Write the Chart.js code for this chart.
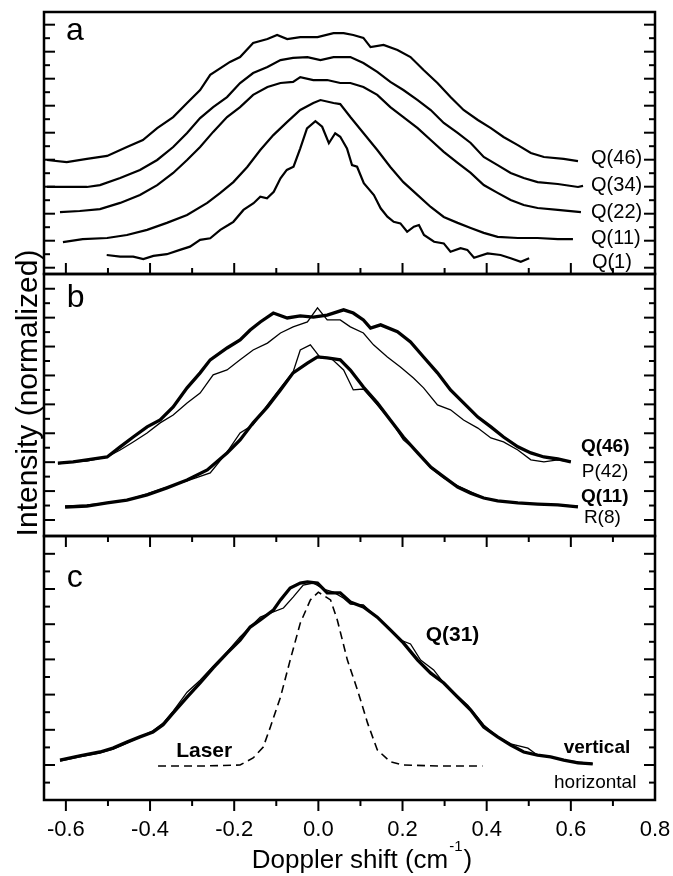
<!DOCTYPE html>
<html>
<head>
<meta charset="utf-8">
<script src="https://cdn.jsdelivr.net/npm/chart.js@4.4.0/dist/chart.umd.min.js"></script>
<style>
  html, body { margin: 0; padding: 0; background: #fff; }
  #wrap { position: relative; width: 673px; height: 876px; }
  #wrap canvas { position: absolute; left: 0; top: 0; }
</style>
</head>
<body>
<div id="wrap">
  <canvas id="panelA" width="673" height="876"></canvas>
  <canvas id="panelB" width="673" height="876"></canvas>
  <canvas id="panelC" width="673" height="876"></canvas>
</div>
<script>
// x axis (Doppler shift, cm-1)
const xMin = -0.652, xMax = 0.8;
const xTickLabels = [-0.6, -0.4, -0.2, 0.0, 0.2, 0.4, 0.6, 0.8];
const xMajor = [-0.6, -0.4, -0.2, 0.0, 0.2, 0.4, 0.6];
const xMinor = [-0.5, -0.3, -0.1, 0.1, 0.3, 0.5, 0.7];

// y ticks per panel (offset intensity units)
const aMajor = [0, 1, 2, 3, 4, 5, 6, 7, 8, 9];
const aMinor = [0.5, 1.5, 2.5, 3.5, 4.5, 5.5, 6.5, 7.5, 8.5];
const bMajor = [0, 1, 2, 3, 4, 5, 6, 7, 8];
const bMinor = [0.5, 1.5, 2.5, 3.5, 4.5, 5.5, 6.5, 7.5];
const cMajor = [0, 1, 2, 3, 4, 5, 6];
const cMinor = [-0.5, 0.5, 1.5, 2.5, 3.5, 4.5, 5.5];

// panel a
const aQ46x = [-0.645,-0.598,-0.550,-0.502,-0.455,-0.417,-0.383,-0.345,-0.312,-0.281,-0.257,-0.210,-0.186,-0.155,-0.121,-0.098,-0.074,-0.043,-0.002,0.036,0.060,0.083,0.107,0.124,0.155,0.188,0.219,0.250,0.283,0.314,0.345,0.379,0.410,0.440,0.474,0.505,0.536,0.583,0.617];
const aQ46y = [3.99,3.91,4.03,4.14,4.47,4.73,5.17,5.58,6.10,6.58,7.14,7.62,7.80,8.32,8.47,8.62,8.47,8.54,8.54,8.69,8.69,8.62,8.51,8.17,8.25,8.06,7.80,7.32,6.84,6.32,5.84,5.47,5.17,4.84,4.54,4.25,4.10,4.03,3.95];
const aQ34x = [-0.645,-0.598,-0.550,-0.519,-0.471,-0.424,-0.383,-0.345,-0.312,-0.281,-0.250,-0.217,-0.186,-0.155,-0.121,-0.090,-0.060,-0.026,0.005,0.036,0.076,0.107,0.140,0.171,0.202,0.236,0.267,0.298,0.331,0.362,0.393,0.426,0.457,0.488,0.521,0.569,0.617,0.629];
const aQ34y = [2.99,2.99,2.99,3.06,3.32,3.62,3.99,4.47,4.99,5.54,5.95,6.32,6.84,7.21,7.43,7.69,7.77,7.80,7.69,7.80,7.80,7.58,7.25,6.88,6.58,6.21,5.84,5.36,4.99,4.62,4.10,3.80,3.51,3.32,3.17,3.10,2.99,3.03];
const aQ22x = [-0.614,-0.567,-0.519,-0.471,-0.424,-0.383,-0.345,-0.312,-0.281,-0.250,-0.217,-0.186,-0.155,-0.121,-0.090,-0.060,-0.043,-0.012,0.021,0.052,0.076,0.107,0.140,0.171,0.202,0.236,0.267,0.298,0.331,0.362,0.393,0.426,0.457,0.488,0.521,0.569,0.624];
const aQ22y = [2.06,2.10,2.17,2.40,2.69,3.06,3.51,3.99,4.47,5.03,5.58,5.95,6.40,6.69,6.84,6.88,7.06,6.95,6.95,6.84,6.84,6.69,6.40,5.95,5.58,5.17,4.73,4.29,3.88,3.51,3.06,2.77,2.51,2.32,2.21,2.14,2.06];
const aQ11x = [-0.607,-0.560,-0.502,-0.455,-0.407,-0.360,-0.312,-0.264,-0.233,-0.202,-0.169,-0.138,-0.107,-0.074,-0.043,-0.012,0.005,0.036,0.052,0.076,0.107,0.140,0.171,0.202,0.236,0.267,0.298,0.331,0.362,0.393,0.426,0.474,0.521,0.569,0.605];
const aQ11y = [0.95,1.06,1.10,1.21,1.40,1.66,1.95,2.40,2.77,3.17,3.73,4.36,4.91,5.40,5.84,6.10,6.21,6.10,6.06,5.58,4.99,4.36,3.73,3.17,2.69,2.25,1.88,1.66,1.47,1.29,1.14,1.10,1.10,1.06,1.06];
const aQ1x = [-0.503,-0.471,-0.440,-0.416,-0.392,-0.360,-0.329,-0.305,-0.281,-0.257,-0.233,-0.214,-0.202,-0.178,-0.154,-0.138,-0.122,-0.106,-0.090,-0.075,-0.059,-0.043,-0.027,-0.007,0.009,0.025,0.040,0.052,0.068,0.080,0.092,0.108,0.132,0.148,0.164,0.179,0.195,0.211,0.227,0.239,0.251,0.275,0.298,0.314,0.338,0.354,0.370,0.402,0.433,0.457,0.481,0.501];
const aQ1y = [0.47,0.41,0.41,0.32,0.44,0.50,0.66,0.78,1.03,1.09,1.40,1.58,1.70,2.14,2.39,2.63,2.57,2.81,3.31,3.62,3.74,4.42,5.16,5.43,5.22,4.61,4.98,4.85,4.42,3.80,3.74,3.13,2.69,2.20,1.89,1.70,1.64,1.33,1.52,1.58,1.21,0.96,0.90,0.59,0.72,0.66,0.37,0.53,0.47,0.35,0.22,0.35];

// panel b
const bQ46x = [-0.619,-0.583,-0.550,-0.502,-0.471,-0.440,-0.407,-0.376,-0.345,-0.312,-0.281,-0.257,-0.217,-0.186,-0.162,-0.138,-0.107,-0.074,-0.043,-0.012,0.021,0.060,0.083,0.107,0.124,0.148,0.188,0.219,0.250,0.283,0.314,0.345,0.379,0.410,0.440,0.474,0.505,0.536,0.569,0.600];
const bQ46y = [1.97,2.01,2.08,2.18,2.53,2.87,3.22,3.46,3.91,4.57,5.09,5.54,5.95,6.23,6.57,6.85,7.16,6.99,7.06,7.02,7.09,7.27,7.16,6.92,6.64,6.75,6.51,6.16,5.64,5.09,4.50,4.05,3.56,3.22,2.87,2.53,2.32,2.18,2.11,2.01];
const bP42x = [-0.619,-0.583,-0.550,-0.502,-0.471,-0.440,-0.407,-0.376,-0.345,-0.312,-0.281,-0.250,-0.217,-0.186,-0.155,-0.121,-0.090,-0.060,-0.026,-0.002,0.021,0.052,0.076,0.107,0.131,0.164,0.195,0.226,0.250,0.283,0.314,0.345,0.379,0.410,0.440,0.474,0.505,0.536,0.569,0.600];
const bP42y = [1.94,2.01,2.04,2.18,2.42,2.70,3.01,3.36,3.63,4.05,4.39,5.02,5.19,5.54,5.88,6.12,6.47,6.68,6.85,7.34,6.92,6.92,6.68,6.47,6.06,5.64,5.29,4.91,4.57,3.98,3.81,3.46,3.18,2.84,2.70,2.42,2.08,2.01,2.08,2.01];
const bQ11x = [-0.602,-0.550,-0.502,-0.455,-0.407,-0.360,-0.312,-0.264,-0.217,-0.186,-0.155,-0.121,-0.090,-0.060,-0.026,-0.002,0.021,0.052,0.076,0.107,0.140,0.171,0.202,0.236,0.267,0.298,0.331,0.362,0.393,0.426,0.474,0.521,0.569,0.617];
const bQ11y = [0.45,0.48,0.59,0.69,0.87,1.11,1.38,1.73,2.32,2.77,3.36,3.91,4.50,5.09,5.43,5.64,5.61,5.54,5.19,4.60,4.05,3.46,2.87,2.32,1.83,1.49,1.14,0.93,0.76,0.66,0.59,0.55,0.52,0.45];
const bR8x = [-0.602,-0.550,-0.502,-0.455,-0.407,-0.360,-0.312,-0.257,-0.217,-0.186,-0.155,-0.121,-0.090,-0.060,-0.043,-0.019,0.005,0.029,0.060,0.083,0.107,0.140,0.171,0.202,0.236,0.267,0.298,0.331,0.362,0.393,0.426,0.474,0.521,0.569,0.617];
const bR8y = [0.48,0.52,0.59,0.69,0.90,1.14,1.35,1.63,2.35,3.01,3.29,3.98,4.57,5.12,5.88,6.06,5.61,5.61,5.19,4.50,4.53,3.98,3.46,2.77,2.35,1.80,1.45,1.18,0.97,0.76,0.66,0.59,0.55,0.52,0.48];

// panel c
const cVertX = [-0.614,-0.567,-0.519,-0.488,-0.455,-0.424,-0.393,-0.369,-0.345,-0.312,-0.281,-0.250,-0.217,-0.186,-0.162,-0.138,-0.107,-0.090,-0.067,-0.043,-0.026,-0.002,0.021,0.052,0.076,0.107,0.140,0.171,0.202,0.236,0.267,0.298,0.331,0.362,0.393,0.426,0.457,0.488,0.521,0.552,0.583,0.617,0.652];
const cVertY = [0.14,0.26,0.37,0.48,0.65,0.80,0.94,1.14,1.48,1.93,2.33,2.76,3.18,3.55,3.92,4.12,4.40,4.69,5.03,5.17,5.20,5.17,4.89,4.89,4.63,4.49,4.20,3.84,3.47,2.98,2.61,2.33,1.93,1.56,1.08,0.80,0.57,0.37,0.28,0.23,0.14,0.06,0.03];
const cHorX = [-0.614,-0.567,-0.519,-0.488,-0.455,-0.424,-0.393,-0.369,-0.345,-0.312,-0.281,-0.250,-0.217,-0.186,-0.162,-0.138,-0.107,-0.083,-0.060,-0.036,-0.012,0.012,0.036,0.060,0.076,0.107,0.140,0.171,0.195,0.219,0.243,0.274,0.302,0.355,0.393,0.426,0.457,0.498,0.521,0.552,0.583,0.617,0.652];
const cHorY = [0.11,0.23,0.34,0.45,0.62,0.80,0.97,1.19,1.53,2.07,2.41,2.81,3.21,3.64,3.92,4.20,4.35,4.46,4.77,5.11,5.17,5.00,4.91,4.74,4.57,4.55,4.18,3.84,3.55,3.44,2.98,2.70,2.27,1.70,1.14,0.80,0.60,0.48,0.28,0.23,0.14,0.09,0.03];
const laserX = [-0.381,-0.281,-0.186,-0.155,-0.131,-0.114,-0.090,-0.067,-0.043,-0.019,0.000,0.029,0.045,0.069,0.093,0.117,0.140,0.171,0.202,0.290,0.390];
const laserY = [-0.03,-0.03,0.00,0.20,0.51,1.08,1.93,2.98,4.03,4.69,4.91,4.69,4.12,2.98,2.13,1.19,0.43,0.09,0.00,-0.03,-0.03];

const FONT = '"Liberation Sans", Arial, Helvetica, sans-serif';

const pts = (xs, ys) => xs.map((x, i) => ({ x, y: ys[i] }));
const curve = (xs, ys, w, dash) => ({
  data: pts(xs, ys),
  borderColor: "#000",
  borderWidth: w,
  borderDash: dash || [],
  pointRadius: 0,
  tension: 0,
  fill: false,
});

// frame, inward ticks and text labels for one panel
const panelFrame = {
  id: "panelFrame",
  afterDatasetsDraw(chart, args, o) {
    const { ctx, chartArea: ca, scales: { x, y } } = chart;
    ctx.save();
    ctx.strokeStyle = "#000";
    ctx.fillStyle = "#000";
    ctx.lineWidth = 2;
    const line = (x1, y1, x2, y2) => {
      ctx.beginPath();
      ctx.moveTo(x1, y1);
      ctx.lineTo(x2, y2);
      ctx.stroke();
    };
    const yTicks = (vals, len) => vals.forEach(v => {
      const p = y.getPixelForValue(v);
      line(ca.left, p, ca.left + len, p);
      line(ca.right, p, ca.right - len, p);
    });
    yTicks(o.yMajor, 11);
    yTicks(o.yMinor, 6);
    const xTicks = (vals, len) => vals.forEach(v => {
      const p = x.getPixelForValue(v);
      if (o.xBottomIn) line(p, ca.bottom, p, ca.bottom - len);
      if (o.xTopIn) line(p, ca.top, p, ca.top + len);
      if (o.xBottomOut) line(p, ca.bottom, p, ca.bottom + len);
    });
    xTicks(xMajor, 11);
    xTicks(xMinor, 6);

    ctx.lineWidth = 2.5;
    ctx.strokeRect(ca.left, ca.top, ca.right - ca.left, ca.bottom - ca.top);

    (o.notes || []).forEach(n => {
      ctx.font = `${n.bold ? "bold " : ""}${n.size}px ${FONT}`;
      ctx.textAlign = "left";
      ctx.textBaseline = n.base || "middle";
      ctx.fillText(n.text, x.getPixelForValue(n.x), y.getPixelForValue(n.y));
    });
    if (o.extra) o.extra(ctx, chart);
    ctx.restore();
  },
};

function makePanel(id, pad, yMin, yMax, datasets, frame, xScale) {
  return new Chart(document.getElementById(id), {
    type: "line",
    data: { datasets },
    options: {
      responsive: false,
      animation: false,
      devicePixelRatio: 1,
      layout: { padding: pad },
      plugins: {
        legend: { display: false },
        tooltip: { enabled: false },
        panelFrame: frame,
      },
      scales: {
        x: xScale || { type: "linear", min: xMin, max: xMax, display: false },
        y: { type: "linear", min: yMin, max: yMax, display: false },
      },
    },
    plugins: [panelFrame],
  });
}

// a
makePanel("panelA", { left: 44, top: 12, right: 18, bottom: 602 }, -0.233, 9.47, [
  curve(aQ46x, aQ46y, 2.2),
  curve(aQ34x, aQ34y, 2.2),
  curve(aQ22x, aQ22y, 2.2),
  curve(aQ11x, aQ11y, 2.2),
  curve(aQ1x, aQ1y, 2.2),
], {
  yMajor: aMajor, yMinor: aMinor, xBottomIn: true,
  notes: [
    { text: "a", x: -0.600, y: 8.43, size: 32, base: "alphabetic" },
    { text: "Q(46)", x: 0.648, y: 4.03, size: 20 },
    { text: "Q(34)", x: 0.648, y: 3.06, size: 20 },
    { text: "Q(22)", x: 0.648, y: 2.06, size: 20 },
    { text: "Q(11)", x: 0.648, y: 1.10, size: 20 },
    { text: "Q(1)", x: 0.650, y: 0.21, size: 20 },
  ],
});

// b
makePanel("panelB", { left: 44, top: 274, right: 18, bottom: 340 }, -0.554, 8.51, [
  curve(bQ46x, bQ46y, 3.3),
  curve(bP42x, bP42y, 1.3),
  curve(bQ11x, bQ11y, 3.3),
  curve(bR8x, bR8y, 1.3),
], {
  yMajor: bMajor, yMinor: bMinor,
  notes: [
    { text: "b", x: -0.598, y: 7.37, size: 32, base: "alphabetic" },
    { text: "Q(46)", x: 0.624, y: 2.53, size: 19, bold: true },
    { text: "P(42)", x: 0.626, y: 1.66, size: 19 },
    { text: "Q(11)", x: 0.624, y: 0.80, size: 19, bold: true },
    { text: "R(8)", x: 0.631, y: 0.07, size: 19 },
  ],
  extra(ctx) {
    ctx.save();
    ctx.translate(37, 393);
    ctx.rotate(-Math.PI / 2);
    ctx.font = `30px ${FONT}`;
    ctx.textAlign = "center";
    ctx.textBaseline = "alphabetic";
    ctx.fillText("Intensity (normalized)", 0, 0);
    ctx.restore();
  },
});

// c
makePanel("panelC", { left: 44, top: 536, right: 18, bottom: 0 }, -0.994, 6.506, [
  curve(cVertX, cVertY, 3.3),
  curve(cHorX, cHorY, 1.3),
  curve(laserX, laserY, 1.6, [8, 5]),
], {
  yMajor: cMajor, yMinor: cMinor, xTopIn: true, xBottomOut: true,
  notes: [
    { text: "c", x: -0.598, y: 5.06, size: 32, base: "alphabetic" },
    { text: "Q(31)", x: 0.255, y: 3.69, size: 21, bold: true },
    { text: "vertical", x: 0.583, y: 0.48, size: 19, bold: true },
    { text: "horizontal", x: 0.560, y: -0.51, size: 19 },
    { text: "Laser", x: -0.338, y: 0.40, size: 21, bold: true },
  ],
  extra(ctx) {
    // axis title with superscript
    const main = "Doppler shift (cm", sup = "-1", close = ")";
    ctx.textAlign = "left";
    ctx.textBaseline = "alphabetic";
    ctx.font = `26px ${FONT}`;
    const wMain = ctx.measureText(main).width;
    const wClose = ctx.measureText(close).width;
    ctx.font = `15px ${FONT}`;
    const wSup = ctx.measureText(sup).width;
    let sx = 362 - (wMain + wSup + wClose + 2) / 2;
    ctx.font = `26px ${FONT}`;
    ctx.fillText(main, sx, 868);
    sx += wMain + 1;
    ctx.font = `15px ${FONT}`;
    ctx.fillText(sup, sx, 851);
    sx += wSup + 1;
    ctx.font = `26px ${FONT}`;
    ctx.fillText(close, sx, 868);
  },
}, {
  type: "linear",
  min: xMin,
  max: xMax,
  position: "bottom",
  grid: { display: false, drawTicks: false },
  border: { display: false },
  afterBuildTicks: s => { s.ticks = xTickLabels.map(v => ({ value: v })); },
  afterFit: s => { s.height = 76; s.paddingLeft = 0; s.paddingRight = 0; },
  ticks: {
    color: "#000",
    font: { family: FONT, size: 22 },
    padding: 17,
    maxRotation: 0,
    autoSkip: false,
    callback: v => v.toFixed(1),
  },
});
</script>
</body>
</html>
